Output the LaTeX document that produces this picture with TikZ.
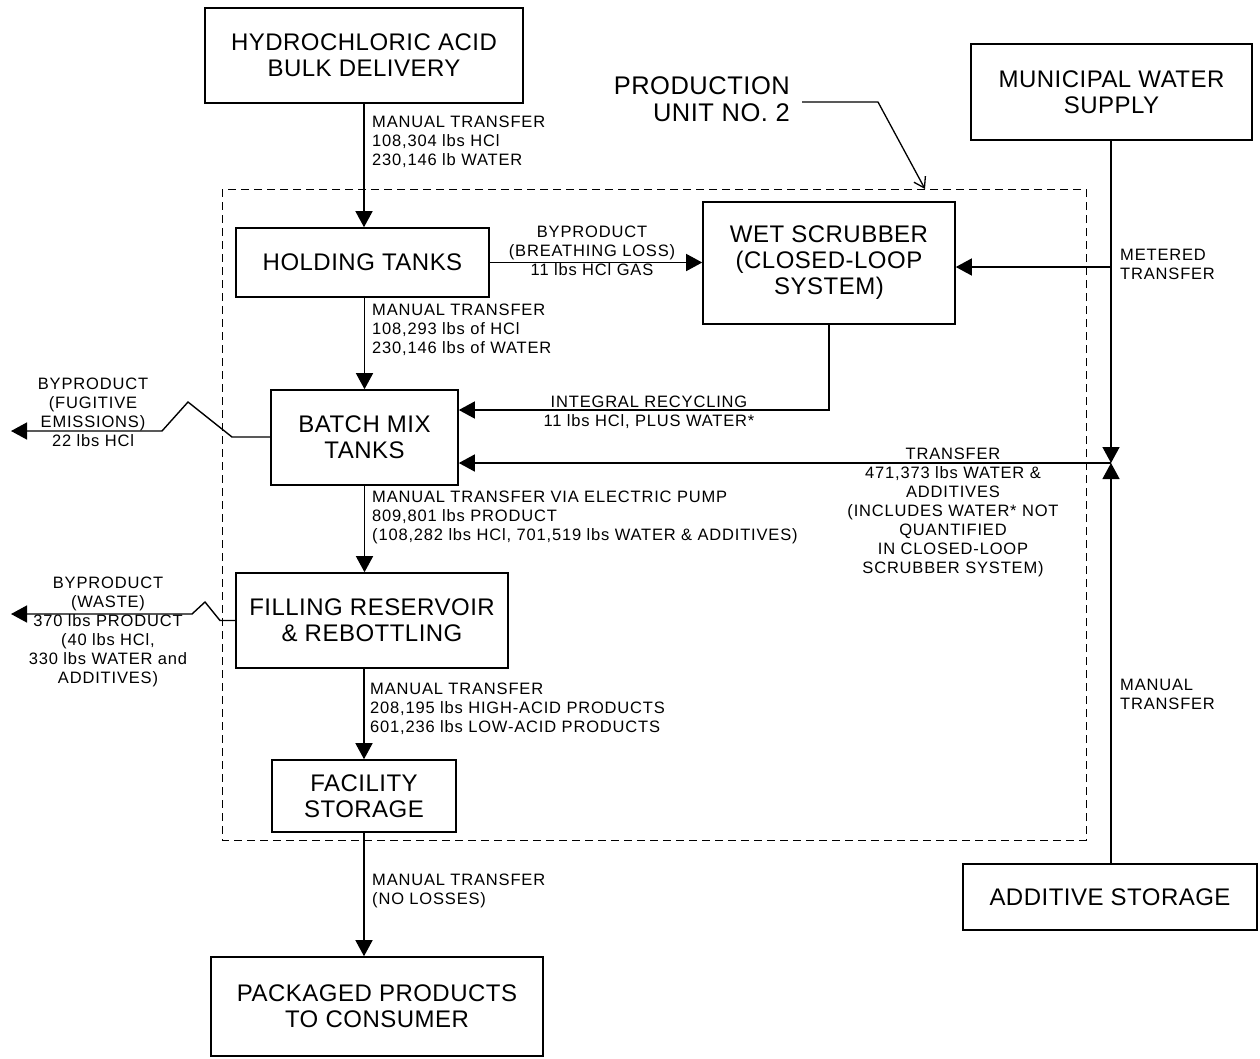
\documentclass[tikz,border=0pt]{standalone}
\usepackage{fontspec}
\setmainfont{Liberation Sans}
\newfontfamily\boxfont[LetterSpace=2]{Liberation Sans}
\newfontfamily\lblfont[LetterSpace=5]{Liberation Sans}
\usetikzlibrary{arrows.meta}

\begin{document}
\begin{tikzpicture}[x=1pt,y=-1pt,
  box/.style={draw, line width=1.6pt, inner sep=0pt, align=center,
    font=\boxfont\fontsize{24}{26}\selectfont},
  lbl/.style={inner sep=0pt, font=\lblfont\fontsize{16.5}{19}\selectfont},
  flow/.style={line width=1.4pt, -{Triangle[length=16pt,width=17pt]}},
  plain/.style={line width=1.4pt},
  unit/.style={draw, line width=1pt, dash pattern=on 8pt off 5pt},
  pointer/.style={line width=1.3pt, -{Straight Barb[length=10pt,width=13pt]}}
]
\useasboundingbox (0,0) rectangle (1260,1058);

% production unit boundary
\draw[unit] (222,189) rectangle (1086,840);

% process boxes
\node[box, minimum width=318pt, minimum height=95pt] (hcl) at (364,55.5) {HYDROCHLORIC ACID\\BULK DELIVERY};
\node[box, minimum width=281pt, minimum height=96pt] (water) at (1111.5,92) {MUNICIPAL WATER\\SUPPLY};
\node[box, minimum width=253pt, minimum height=69pt] (hold) at (362.5,262.5) {HOLDING TANKS};
\node[box, minimum width=252pt, minimum height=122pt] (scrub) at (829,263) {WET SCRUBBER\\(CLOSED-LOOP\\SYSTEM)};
\node[box, minimum width=187pt, minimum height=95pt] (batch) at (364.5,437.5) {BATCH MIX\\TANKS};
\node[box, minimum width=272pt, minimum height=95pt] (fill) at (372,620.5) {FILLING RESERVOIR\\\& REBOTTLING};
\node[box, minimum width=184pt, minimum height=72pt] (store) at (364,796) {FACILITY\\STORAGE};
\node[box, minimum width=332pt, minimum height=99pt] (pack) at (377,1006.5) {PACKAGED PRODUCTS\\TO CONSUMER};
\node[box, minimum width=294pt, minimum height=66pt] (add) at (1110,897) {ADDITIVE STORAGE};

% unit caption and its pointer
\node[inner sep=0pt, align=right, anchor=east, font=\boxfont\fontsize{25.5}{27}\selectfont] (prod) at (790,99.5) {PRODUCTION\\UNIT NO. 2};
\coordinate (unittop) at (925,189);
\draw[pointer] ([xshift=12pt,yshift=-2.5pt]prod.east) -- (878,102) -- (unittop);

% main product line
\draw[flow] (hcl.south) -- (hcl.south |- hold.north);
\draw[flow] (batch.north |- hold.south) -- (batch.north);
\draw[flow] (batch.south) -- (batch.south |- fill.north);
\draw[flow] (store.north |- fill.south) -- (store.north);
\draw[flow] (store.south) -- (store.south |- pack.north);

\node[lbl, anchor=north west, align=left] (t1) at (372,116) {MANUAL TRANSFER\\108,304 lbs HCl\\230,146 lb WATER};
\node[lbl, anchor=north west, align=left] (t2) at (372,304) {MANUAL TRANSFER\\108,293 lbs of HCl\\230,146 lbs of WATER};
\node[lbl, anchor=north west, align=left] (t3) at (372,491) {MANUAL TRANSFER VIA ELECTRIC PUMP\\809,801 lbs PRODUCT\\(108,282 lbs HCl, 701,519 lbs WATER \& ADDITIVES)};
\node[lbl, anchor=north west, align=left] (t4) at (370,683) {MANUAL TRANSFER\\208,195 lbs HIGH-ACID PRODUCTS\\601,236 lbs LOW-ACID PRODUCTS};
\node[lbl, anchor=north west, align=left] (t5) at (372,874) {MANUAL TRANSFER\\(NO LOSSES)};

% breathing loss to scrubber
\draw[flow] (hold.east) -- (hold.east -| scrub.west);
\node[lbl, anchor=north, align=center] (t6) at (592,226) {BYPRODUCT\\(BREATHING LOSS)\\11 lbs HCl GAS};

% scrubber recycle to batch mix
\coordinate (rc) at (829,410);
\draw[flow] (scrub.south) |- (rc -| batch.east);
\node[lbl, anchor=north, align=center] (t7) at (649,396) {INTEGRAL RECYCLING\\11 lbs HCl, PLUS WATER*};

% water and additive supply
\coordinate (jn) at (1111,463);
\coordinate (mt) at (1111,267);
\draw[flow] (water.south -| jn) -- (jn);
\draw[flow] (add.north -| jn) -- (jn);
\draw[flow] (mt) -- (mt -| scrub.east);
\draw[flow] (jn) -- (jn -| batch.east);
\node[lbl, anchor=north west, align=left] (t8) at (1120,249) {METERED\\TRANSFER};
\node[lbl, anchor=north west, align=left] (t9) at (1120,679) {MANUAL\\TRANSFER};
\node[lbl, anchor=north, align=center] (t10) at (953,448) {TRANSFER\\471,373 lbs WATER \&\\ADDITIVES\\(INCLUDES WATER* NOT\\QUANTIFIED\\IN CLOSED-LOOP\\SCRUBBER SYSTEM)};

% losses leaving the unit
\coordinate (fugout) at (11,431);
\draw[flow] (batch.west |- 0,437) -- (232,437) -- (188,402) -- (162,431) -- (fugout);
\node[lbl, anchor=north, align=center] (t11) at (93,378) {BYPRODUCT\\(FUGITIVE\\EMISSIONS)\\22 lbs HCl};

\coordinate (wasteout) at (11,614);
\draw[flow] (fill.west) -- (220,620.5) -- (205,602) -- (192,614) -- (wasteout);
\node[lbl, anchor=north, align=center] (t12) at (108,577) {BYPRODUCT\\(WASTE)\\370 lbs PRODUCT\\(40 lbs HCl,\\330 lbs WATER and\\ADDITIVES)};

\end{tikzpicture}
\end{document}
